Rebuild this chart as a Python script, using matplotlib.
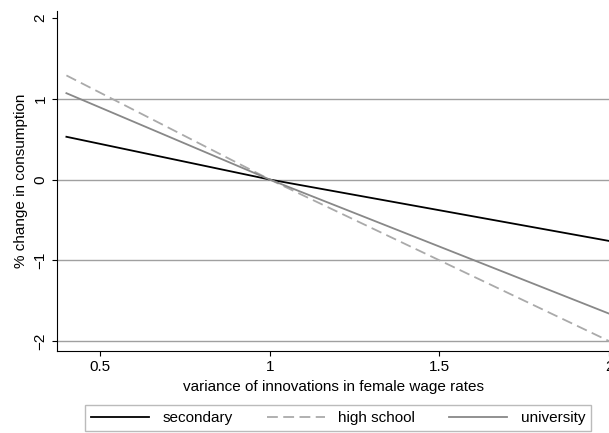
import matplotlib
matplotlib.use("Agg")
import matplotlib.pyplot as plt

plt.rcParams["font.family"] = ["Liberation Sans", "DejaVu Sans"]

x = [0.4, 1.0, 2.0]
secondary = [0.53, 0.0, -0.76]
high_school = [1.29, 0.0, -2.0]
university = [1.07, 0.0, -1.66]
xticks = [0.5, 1, 1.5, 2]
yticks = [-2, -1, 0, 1, 2]

fig = plt.figure(figsize=(6.09, 4.33), dpi=100)
ax = fig.add_axes([0.094, 0.19, 0.906, 0.785])
for yv in [-2, -1, 0, 1]:
    ax.axhline(yv, color="#a0a0a0", lw=1, zorder=0)
ax.plot(x, secondary, color="black", lw=1.3, label="secondary")
ax.plot(x, high_school, color="#aaaaaa", lw=1.3, ls=(0, (6, 3)), label="high school")
ax.plot(x, university, color="#888888", lw=1.3, label="university")
ax.set_xlim(0.373, 2.0)
ax.set_ylim(-2.12, 2.09)
ax.set_xticks(xticks)
ax.set_xticklabels(["0.5", "1", "1.5", "2"])
ax.set_yticks(yticks)
ax.set_yticklabels(["\u22122", "\u22121", "0", "1", "2"], rotation=90, va="center")
ax.spines["top"].set_visible(False)
ax.spines["right"].set_visible(False)
ax.tick_params(labelsize=11)
ax.set_xlabel("variance of innovations in female wage rates", fontsize=11)
ax.set_ylabel("% change in consumption", fontsize=11)
fig.legend(loc="lower center", ncol=3, bbox_to_anchor=(0.555, 0.0), fancybox=False,
           edgecolor="#aaaaaa", fontsize=11, handlelength=3.8, columnspacing=2.2,
           handletextpad=0.9, borderaxespad=0.1)
fig.savefig("out.png")
